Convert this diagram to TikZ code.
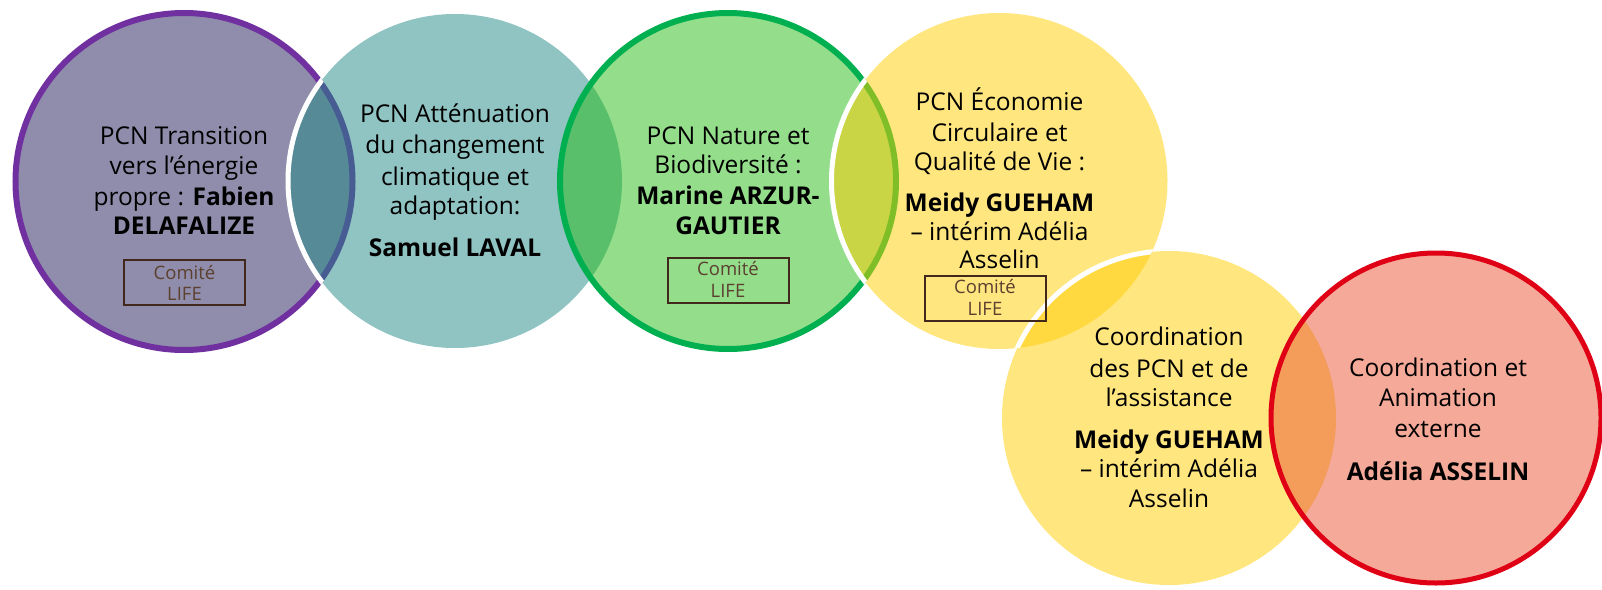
\documentclass[tikz,border=0pt]{standalone}
\usepackage{fontspec}
\setmainfont{Open Sans}
\definecolor{cAfill}{RGB}{143,141,171}
\definecolor{cAline}{RGB}{112,48,160}
\definecolor{cBfill}{RGB}{31,137,133}
\definecolor{cCfill}{RGB}{39,187,23}
\definecolor{cCline}{RGB}{0,176,80}
\definecolor{cDfill}{RGB}{255,205,0}
\definecolor{cFfill}{RGB}{233,83,51}
\definecolor{cFline}{RGB}{224,0,22}
\definecolor{comite}{RGB}{92,64,48}
\definecolor{boxc}{RGB}{64,40,28}
\tikzset{
  txt/.style={font=\fontsize{24.5}{30}\selectfont, anchor=base, inner sep=0pt, text=black},
  smalltxt/.style={font=\fontsize{18.5}{21}\selectfont, anchor=base, inner sep=0pt, text=comite},
  lifebox/.style={draw=boxc, line width=2pt, minimum width=121pt, minimum height=45pt, inner sep=0pt},
}
\begin{document}
\begin{tikzpicture}[x=1pt,y=-1pt]
\useasboundingbox (0,0) rectangle (1602,589);
\coordinate (C1) at (184,181.5);
\coordinate (C2) at (455,181);
\coordinate (C3) at (728,181);
\coordinate (C4) at (999.5,181);
\coordinate (C5) at (1169,418);
\coordinate (C6) at (1436,418);
% circle 1
\fill[cAfill] (C1) circle[radius=168.5pt];
\draw[cAline, line width=6pt] (C1) circle[radius=168.5pt];
% circle 2
\fill[cBfill, fill opacity=0.5] (C2) circle[radius=167pt];
\begin{scope}
  \clip (C1) circle[radius=171.5pt];
  \draw[white, line width=5pt] (C2) circle[radius=167pt];
\end{scope}
% circle 3
\fill[cCfill, fill opacity=0.5] (C3) circle[radius=168pt];
\draw[cCline, line width=6pt] (C3) circle[radius=168pt];
% circle 4
\fill[cDfill, fill opacity=0.5] (C4) circle[radius=168pt];
\begin{scope}
  \clip (C3) circle[radius=171pt];
  \draw[white, line width=5pt] (C4) circle[radius=168pt];
\end{scope}
% circle 5
\fill[cDfill, fill opacity=0.5] (C5) circle[radius=167pt];
\begin{scope}
  \clip (C4) circle[radius=168pt];
  \draw[white, line width=5pt] (C5) circle[radius=167pt];
\end{scope}
% circle 6
\fill[cFfill, fill opacity=0.5] (C6) circle[radius=165pt];
\draw[cFline, line width=5pt] (C6) circle[radius=165pt];
% Comite LIFE boxes
\node[lifebox] (b1) at (184.5,282) {};
\node[lifebox] (b3) at (728,280) {};
\node[lifebox] (b4) at (985,298) {};
\node[smalltxt] (b1a) at (184.5,279) {Comité};
\node[smalltxt] (b1b) at (184.5,300) {LIFE};
\node[smalltxt] (b3a) at (728,275) {Comité};
\node[smalltxt] (b3b) at (728,297) {LIFE};
\node[smalltxt] (b4a) at (985,293) {Comité};
\node[smalltxt] (b4b) at (985,315) {LIFE};
% texts
\foreach \yy/\ttx [count=\i] in {144/PCN Transition, 174.5/vers l’énergie, 205/{propre : \textbf{Fabien}}, 234/\textbf{DELAFALIZE}}
  \node[txt, name=ta\i] at (184,\yy) {\ttx};
\foreach \yy/\ttx [count=\i] in {122.5/PCN Atténuation, 153/du changement, 185/climatique et, 214.5/adaptation:, 256/\textbf{Samuel LAVAL}}
  \node[txt, name=tb\i] at (455,\yy) {\ttx};
\foreach \yy/\ttx [count=\i] in {144/PCN Nature et, 173.5/Biodiversité :, 204/\textbf{Marine ARZUR-}, 234/\textbf{GAUTIER}}
  \node[txt, name=tc\i] at (728,\yy) {\ttx};
\foreach \yy/\ttx [count=\i] in {110/PCN Économie, 141/Circulaire et, 170.5/Qualité de Vie :, 211/\textbf{Meidy GUEHAM}, 240/– intérim Adélia, 268.5/Asselin}
  \node[txt, name=td\i] at (999.5,\yy) {\ttx};
\foreach \yy/\ttx [count=\i] in {345/Coordination, 377/des PCN et de, 406.5/l’assistance, 448/\textbf{Meidy GUEHAM}, 477/– intérim Adélia, 507.5/Asselin}
  \node[txt, name=te\i] at (1169,\yy) {\ttx};
\foreach \yy/\ttx [count=\i] in {376/Coordination et, 406.5/Animation, 437/externe, 480/\textbf{Adélia ASSELIN}}
  \node[txt, name=tf\i] at (1438,\yy) {\ttx};
\end{tikzpicture}
\end{document}
